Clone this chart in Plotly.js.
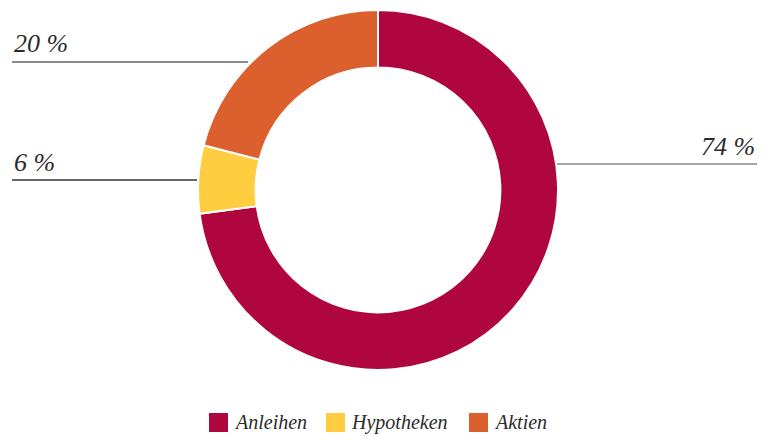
<!DOCTYPE html>
<html>
<head>
<meta charset="utf-8">
<script src="https://cdn.plot.ly/plotly-3.0.1.min.js"></script>
<style>html,body{margin:0;padding:0;background:#fff;}#chart{width:774px;height:436px;}</style>
</head>
<body>
<div id="chart"></div>
<script>
const categories = ["Anleihen", "Hypotheken", "Aktien"];
const values = [72.9, 6.1, 21.0];
const labelsText = ["74 %", "6 %", "20 %"];
const colors = ["#B0063F", "#FFCD40", "#DC602E"];

const W = 774, H = 436;
const px = x => x / W;
const py = y => (H - y) / H;
const serif = "Liberation Serif";

const data = [{
  type: "pie",
  labels: categories,
  values: values,
  sort: false,
  direction: "clockwise",
  rotation: 0,
  hole: 0.68,
  textinfo: "none",
  hoverinfo: "none",
  marker: {colors: colors, line: {color: "#ffffff", width: 2}},
  domain: {x: [px(198), px(558)], y: [py(370), py(10)]},
  showlegend: false
}];

const labelPos = [
  {x: 757, y: 146, anchor: "right", line: [557, 757, 164], lc: "#8a8a8a"},
  {x: 12, y: 162, anchor: "left", line: [12, 197, 180], lc: "#333333"},
  {x: 12, y: 43, anchor: "left", line: [12, 248, 62], lc: "#666666"}
];

const annotations = [];
const shapes = [];
labelsText.forEach((t, i) => {
  const p = labelPos[i];
  annotations.push({
    xref: "paper", yref: "paper", x: px(p.x), y: py(p.y),
    xanchor: p.anchor, yanchor: "middle", showarrow: false,
    text: t,
    font: {family: serif, size: 26, color: "#2b2b2b", style: "italic"}
  });
  shapes.push({
    type: "line", xref: "paper", yref: "paper",
    x0: px(p.line[0]), x1: px(p.line[1]), y0: py(p.line[2]), y1: py(p.line[2]),
    line: {color: p.lc, width: 1.3}
  });
});

const legendX = [209, 326, 469];
categories.forEach((c, i) => {
  shapes.push({
    type: "rect", xref: "paper", yref: "paper",
    x0: px(legendX[i]), x1: px(legendX[i] + 19), y0: py(432), y1: py(413),
    fillcolor: colors[i], line: {width: 0}
  });
  annotations.push({
    xref: "paper", yref: "paper", x: px(legendX[i] + 23), y: py(422),
    xanchor: "left", yanchor: "middle", showarrow: false,
    text: c,
    font: {family: serif, size: 20, color: "#2b2b2b", style: "italic"}
  });
});

const layout = {
  width: W, height: H,
  margin: {l: 0, r: 0, t: 0, b: 0},
  paper_bgcolor: "#ffffff",
  plot_bgcolor: "#ffffff",
  showlegend: false,
  annotations: annotations,
  shapes: shapes
};

Plotly.newPlot("chart", data, layout, {staticPlot: true, displayModeBar: false});
</script>
</body>
</html>
